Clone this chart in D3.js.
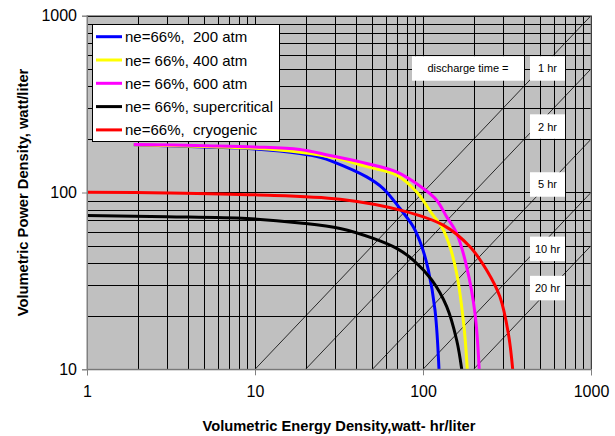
<!DOCTYPE html>
<html>
<head>
<meta charset="utf-8">
<script src="https://cdn.jsdelivr.net/npm/d3@7"></script>
<style>
  body { margin: 0; background: #fff; }
  svg text { font-family: "Liberation Sans", Arial, sans-serif; }
</style>
</head>
<body>
<script>
(function(){

//series data (energy density Wh/l, power density W/l)
var seriesNames = ["ne=66%,  200 atm", "ne= 66%, 400 atm", "ne= 66%, 600 atm", "ne= 66%, supercritical", "ne=66%,  cryogenic"];
var seriesColors = ["#0000ff", "#ffff00", "#ff00ff", "#000000", "#ff0000"];

var e200 = [1.9, 5, 10, 18.5, 24.4, 29.3, 46.2, 58, 72.9, 87.5, 98, 107.6, 117.9, 124.5];
var p200 = [186, 181, 176, 166, 158, 149, 122.5, 105.3, 81.2, 64, 50, 36.4, 21.6, 10];

var e400 = [1.9, 5, 10, 18.5, 30, 46.2, 69.7, 91.7, 114.7, 129.2, 144.7, 158.7, 175.4, 183.5];
var p400 = [186, 182, 178, 169, 157, 140, 125.2, 100.7, 74.4, 64, 49.3, 34.8, 17.4, 10];

var e600 = [1.9, 5, 10, 18.5, 27.9, 46.2, 69.7, 100.4, 120.6, 138.4, 158.7, 182, 204, 216];
var p600 = [187, 184, 181, 175, 162, 146, 130.7, 105.3, 90.5, 72.8, 58.7, 38, 20.7, 10];

var eSuper = [1, 3, 8.93, 18.5, 32.1, 50.6, 69.7, 87.5, 112.7, 138.4, 158.7, 170];
var pSuper = [74.1, 73, 71.3, 67.3, 62.6, 55, 48.3, 41.5, 32, 22.6, 14.6, 10];

var eCryo = [1, 3, 10, 32.1, 76.3, 132, 190.5, 239, 287, 322, 342];
var pCryo = [100.4, 99.5, 97, 91.6, 78.7, 65.4, 49.3, 36.4, 25.7, 16, 10];

//discharge time lines (hours) and where their labels sit
var dischargeHours = [1, 2, 5, 10, 20];
var hourLabels = ["1 hr", "2 hr", "5 hr", "10 hr", "20 hr"];
var hourLabelP = [503, 236, 111, 48, 28.8];
var hourLabelE = 551;

var xTicks = [1, 10, 100, 1000];
var yTicks = [10, 100, 1000];

var width = 615, height = 436;
var plotLeft = 87, plotRight = 591, plotTop = 15.7, plotBottom = 369.3;

var svg = d3.select("body").append("svg")
    .attr("width", width)
    .attr("height", height);

var x = d3.scaleLog().domain([1, 1000]).range([plotLeft, plotRight]);
var y = d3.scaleLog().domain([10, 1000]).range([plotBottom, plotTop]);

//plot background
svg.append("rect")
    .attr("x", plotLeft).attr("y", plotTop)
    .attr("width", plotRight - plotLeft).attr("height", plotBottom - plotTop)
    .attr("fill", "#c0c0c0");

//grid lines at every 1..9 of each decade
var xGrid = [], yGrid = [];
[1, 10, 100].forEach(function(d){
    for (var k = 1; k <= 9; k++) xGrid.push(k * d);
});
xGrid.push(1000);
[10, 100].forEach(function(d){
    for (var k = 1; k <= 9; k++) yGrid.push(k * d);
});
yGrid.push(1000);

svg.append("g").selectAll("line")
    .data(xGrid)
    .enter().append("line")
    .attr("x1", function(d){ return Math.round(x(d)) + 0.5; })
    .attr("x2", function(d){ return Math.round(x(d)) + 0.5; })
    .attr("y1", plotTop).attr("y2", plotBottom)
    .attr("stroke", "#000").attr("stroke-width", 1);

svg.append("g").selectAll("line")
    .data(yGrid)
    .enter().append("line")
    .attr("y1", function(d){ return Math.round(y(d)) + 0.5; })
    .attr("y2", function(d){ return Math.round(y(d)) + 0.5; })
    .attr("x1", plotLeft).attr("x2", plotRight)
    .attr("stroke", "#000").attr("stroke-width", 1);

//clip for the diagonals and curves
svg.append("clipPath").attr("id", "plotclip")
    .append("rect")
    .attr("x", plotLeft).attr("y", plotTop)
    .attr("width", plotRight - plotLeft).attr("height", plotBottom - plotTop);

//discharge time diagonals: P = E / t
svg.append("g").attr("clip-path", "url(#plotclip)")
    .selectAll("line")
    .data(dischargeHours)
    .enter().append("line")
    .attr("x1", function(t){ return x(10 * t); })
    .attr("y1", y(10))
    .attr("x2", x(1000))
    .attr("y2", function(t){ return y(1000 / t); })
    .attr("stroke", "#000").attr("stroke-width", 0.8);

//curves
var allE = [e200, e400, e600, eSuper, eCryo];
var allP = [p200, p400, p600, pSuper, pCryo];

var line = d3.line()
    .x(function(d){ return x(d[0]); })
    .y(function(d){ return y(d[1]); })
    .curve(d3.curveCatmullRom.alpha(0.5));

var curveData = allE.map(function(es, i){
    return es.map(function(e, j){ return [e, allP[i][j]]; });
});

svg.append("g").attr("clip-path", "url(#plotclip)")
    .selectAll("path")
    .data(curveData)
    .enter().append("path")
    .attr("d", line)
    .attr("fill", "none")
    .attr("stroke", function(d, i){ return seriesColors[i]; })
    .attr("stroke-width", 3)
    .attr("stroke-linejoin", "round");

//plot border
svg.append("rect")
    .attr("x", plotLeft).attr("y", plotTop)
    .attr("width", plotRight - plotLeft).attr("height", plotBottom - plotTop)
    .attr("fill", "none").attr("stroke", "#808080").attr("stroke-width", 1);

//discharge time labels
var boxH = 24.5;
svg.append("rect")
    .attr("x", 412).attr("y", y(hourLabelP[0]) - boxH / 2)
    .attr("width", 112).attr("height", boxH)
    .attr("fill", "#fff");
svg.append("text")
    .attr("x", 468).attr("y", y(hourLabelP[0]) + 4)
    .attr("text-anchor", "middle")
    .attr("font-size", 11)
    .text("discharge time =");

var hl = svg.append("g").selectAll("g")
    .data(hourLabels)
    .enter().append("g");
hl.append("rect")
    .attr("x", x(hourLabelE) - 17.5)
    .attr("y", function(d, i){ return y(hourLabelP[i]) - boxH / 2; })
    .attr("width", 35).attr("height", boxH)
    .attr("fill", "#fff");
hl.append("text")
    .attr("x", x(hourLabelE))
    .attr("y", function(d, i){ return y(hourLabelP[i]) + 4; })
    .attr("text-anchor", "middle")
    .attr("font-size", 11)
    .text(function(d){ return d; });

//axes
var xAxis = d3.axisBottom(x).tickValues(xTicks).tickFormat(d3.format("d")).tickSize(6).tickPadding(10);
var gx = svg.append("g")
    .attr("transform", "translate(0," + plotBottom + ")")
    .call(xAxis);
gx.select(".domain").attr("stroke", "#808080");
gx.selectAll(".tick line").attr("stroke", "#808080");
gx.selectAll("text").attr("font-size", 16).attr("fill", "#000")
    .attr("font-family", "Liberation Sans, Arial, sans-serif");

var yAxis = d3.axisLeft(y).tickValues(yTicks).tickFormat(d3.format("d")).tickSize(5).tickPadding(5);
var gy = svg.append("g")
    .attr("transform", "translate(" + plotLeft + ",0)")
    .call(yAxis);
gy.select(".domain").attr("stroke", "#808080");
gy.selectAll(".tick line").attr("stroke", "#808080");
gy.selectAll("text").attr("font-size", 16).attr("fill", "#000")
    .attr("font-family", "Liberation Sans, Arial, sans-serif");

//axis titles
svg.append("text")
    .attr("x", (plotLeft + plotRight) / 2)
    .attr("y", 431)
    .attr("text-anchor", "middle")
    .attr("font-size", 14.7)
    .attr("font-weight", "bold")
    .text("Volumetric Energy Density,watt- hr/liter");

svg.append("text")
    .attr("transform", "translate(28," + ((plotTop + plotBottom) / 2) + ") rotate(-90)")
    .attr("text-anchor", "middle")
    .attr("font-size", 14.7)
    .attr("font-weight", "bold")
    .text("Volumetric Power Density, watt/liter");

//legend
var legend = svg.append("g");
legend.append("rect")
    .attr("x", 92.5).attr("y", 24.5)
    .attr("width", 187).attr("height", 117)
    .attr("fill", "#fff").attr("stroke", "#000").attr("stroke-width", 1);

var items = legend.selectAll(".item")
    .data(seriesNames)
    .enter().append("g")
    .attr("class", "item")
    .attr("transform", function(d, i){ return "translate(0," + (36.7 + i * 23.3) + ")"; });
items.append("line")
    .attr("x1", 96).attr("x2", 122)
    .attr("stroke", function(d, i){ return seriesColors[i]; })
    .attr("stroke-width", 3);
items.append("text")
    .attr("x", 125).attr("y", 5.5)
    .attr("font-size", 15)
    .style("white-space", "pre")
    .text(function(d){ return d; });

})();
</script>
</body>
</html>
